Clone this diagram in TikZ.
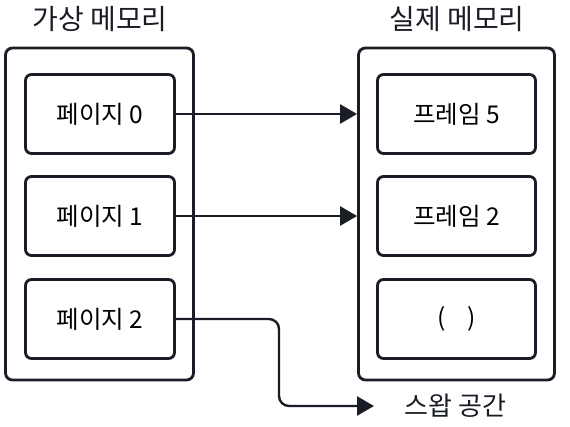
\documentclass[tikz,border=0pt]{standalone}
\usepackage{fontspec}
\setmainfont{Noto Sans CJK KR}
\usetikzlibrary{arrows.meta}
\definecolor{ink}{HTML}{1A1D26}
\begin{document}
\begin{tikzpicture}[x=1pt,y=-1pt,
  outerbox/.style={draw=ink,line width=2.8pt,rounded corners=7pt},
  innerbox/.style={draw=ink,line width=2.8pt,rounded corners=6pt,minimum width=149pt,minimum height=79pt,inner sep=0pt,font=\fontsize{24.5}{28}\selectfont},
  title/.style={font=\fontsize{28}{32}\selectfont,text=ink},
  conn/.style={draw=ink,line width=2.4pt,-{Triangle[length=17pt,width=19pt]}}]
\useasboundingbox[fill=white] (0,0) rectangle (570,426);
\node[title] (tl) at (100,19) {가상 메모리};
\node[title] (tr) at (457,19) {실제 메모리};
\node[outerbox,minimum width=188pt,minimum height=332pt] (vm) at (99.5,214) {};
\node[outerbox,minimum width=196pt,minimum height=332pt] (pm) at (456.5,214) {};
\node[innerbox] (p0) at (100,114) {페이지 0};
\node[innerbox] (p1) at (100,216) {페이지 1};
\node[innerbox] (p2) at (100,319) {페이지 2};
\node[innerbox,minimum width=158pt] (f5) at (456.5,114) {프레임 5};
\node[innerbox,minimum width=158pt] (f2) at (456.5,216) {프레임 2};
\node[innerbox,minimum width=158pt] (fe) at (456.5,319) {(\hspace{22pt})};
\node[title,font=\fontsize{26}{30}\selectfont,anchor=west] (sw) at (401,406) {스왑 공간};
\coordinate (b1) at (279,319);
\coordinate (b2) at (279,406);
\draw[conn] (p0.east) -- (p0.east -| pm.west);
\draw[conn] (p1.east) -- (p1.east -| pm.west);
\draw[conn,rounded corners=10pt] (p2.east) -- (b1) -- (b2) -- (374,406);
\end{tikzpicture}
\end{document}
